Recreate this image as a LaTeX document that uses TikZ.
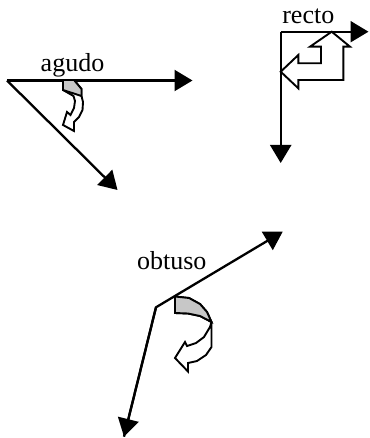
\documentclass[tikz,border=0pt]{standalone}
\usepackage{fontspec}
\setmainfont{Liberation Serif}
\usetikzlibrary{arrows.meta}
\tikzset{
  ray/.style={line width=2.3pt, -{Triangle[length=18pt,width=21pt]}},
  lbl/.style={anchor=base, inner sep=0pt, font=\fontsize{26}{30}\selectfont},
  band/.style={draw=black, fill=white, line width=1.9pt, line join=miter},
  shade/.style={draw=black, fill=black!22, line width=1.9pt, line join=miter}
}
\begin{document}
\begin{tikzpicture}[x=1pt,y=-1pt]
\useasboundingbox (0,0) rectangle (369,438);
% ---------- agudo ----------
\coordinate (av) at (7,80.5);
\coordinate (ah) at (192.5,80.5);
\coordinate (ad) at (117.5,190);
\draw[ray] (av) -- (ah);
\draw[ray] (av) -- (ad);
\node[lbl] (agudo) at (72.5,71.7) {agudo};
\draw[band] (63,80) -- (74,80) -- (81.5,89) -- (81.5,96) -- (83,102) -- (82.5,110)
  -- (79,117) -- (74,122) -- (74,131) -- (63,125) -- (67,112) -- (70.5,115)
  -- (74,108) -- (75,101) -- (73.5,96) -- (63,90) -- cycle;
\draw[shade] (63,80) -- (74,80) -- (81.5,89) -- (81.5,96) -- (63,90) -- cycle;
% ---------- recto ----------
\coordinate (rv) at (280.7,31.7);
\coordinate (rh) at (368.5,31.7);
\coordinate (rd) at (280.7,163);
\draw[ray] (rv) -- (rh);
\draw[ray] (rv) -- (rd);
\node[lbl] (recto) at (308.3,24) {recto};
\draw[band] (331.7,31.7) -- (350,46.7) -- (343.3,46.7) -- (343.3,80) -- (298.3,80)
  -- (298.3,88.3) -- (280.7,71.7) -- (298.3,55) -- (298.3,63.3) -- (321,63.3)
  -- (321,46.7) -- (310,46.7) -- cycle;
% ---------- obtuso ----------
\coordinate (ov) at (156,307.3);
\coordinate (ou) at (282.7,231.7);
\coordinate (ol) at (124,436.7);
\draw[ray, line join=miter] (ol) -- (ov) -- (ou);
\draw[ray] (ov) -- (ol);
\node[lbl] (obtuso) at (171.7,269.3) {obtuso};
\draw[band] (175,296.5) -- (189,298) -- (200,304) -- (207,312) -- (211.5,322)
  -- (211.5,347) -- (206,355) -- (197,361) -- (188,363) -- (188,371.5)
  -- (175,358) -- (185,342) -- (187,346) -- (196,343) -- (204,337) -- (210,327)
  -- (211.5,322) -- (200,316) -- (188,313.5) -- (175,313) -- cycle;
\draw[shade] (175,296.5) -- (189,298) -- (200,304) -- (207,312) -- (211.5,322)
  -- (200,316) -- (188,313.5) -- (175,313) -- cycle;
\end{tikzpicture}
\end{document}
